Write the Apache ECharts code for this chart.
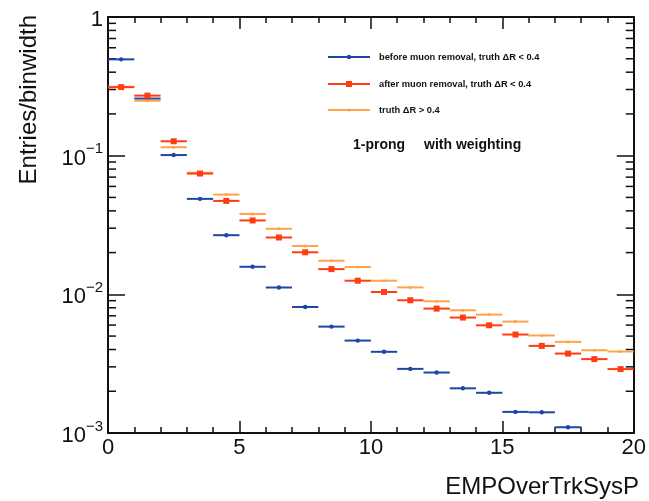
<!DOCTYPE html>
<html lang="en">
<head>
  <meta charset="UTF-8">
  <title>EMPOverTrkSysP</title>
  <style>
    html, body { margin: 0; padding: 0; background: #fff; }
    #chart { width: 649px; height: 501px; }
  </style>
</head>
<body>
  <div id="chart"></div>
  <script src="https://cdn.jsdelivr.net/npm/echarts@6/dist/echarts.min.js"></script>
  <script>
    // bin centres (bin width 1) and entries/binwidth
    var binCenters = [0.5, 1.5, 2.5, 3.5, 4.5, 5.5, 6.5, 7.5, 8.5, 9.5,
      10.5, 11.5, 12.5, 13.5, 14.5, 15.5, 16.5, 17.5, 18.5, 19.5];
    var beforeMuon = [0.495, 0.258, 0.101, 0.0488, 0.0267, 0.0158, 0.0112, 0.0081, 0.00585, 0.00464,
      0.00385, 0.00290, 0.00273, 0.00210, 0.00195, 0.00142, 0.00141, 0.00110];
    var afterMuon = [0.312, 0.271, 0.127, 0.0743, 0.0472, 0.0341, 0.0257, 0.0201, 0.0152, 0.01254,
      0.0104, 0.00906, 0.00789, 0.00680, 0.00598, 0.00513, 0.00425, 0.00374, 0.00341, 0.00289];
    var truthOut = [0.314, 0.249, 0.115, 0.0752, 0.0524, 0.0380, 0.0297, 0.0223, 0.01747, 0.01574,
      0.01254, 0.01122, 0.00891, 0.00767, 0.00714, 0.00636, 0.00505, 0.00454, 0.00395, 0.00387];
    var seriesNames = ['before muon removal, truth \u0394R < 0.4',
      'after muon removal, truth \u0394R < 0.4', 'truth \u0394R > 0.4'];
    var xTicks = [0, 5, 10, 15, 20];
    var halfBin = 0.5;

    var BLUE = '#1f45a5', RED = '#ff3c12', ORANGE = '#ffa24a';
    var FONT = '"Liberation Sans", Arial, sans-serif';

    function pairs(vals) {
      return vals.map(function (v, i) { return [binCenters[i], v]; });
    }

    function markerShape(kind, cx, cy, color) {
      if (kind === 'square') {
        return { type: 'rect', shape: { x: cx - 3, y: cy - 3, width: 6, height: 6 }, style: { fill: color } };
      }
      if (kind === 'dot') {
        return { type: 'circle', shape: { cx: cx, cy: cy, r: 2.2 }, style: { fill: color } };
      }
      return { type: 'circle', shape: { cx: cx, cy: cy, r: 1.5 }, style: { fill: color } };
    }

    function errRender(color, kind) {
      return function (params, api) {
        var x = api.value(0), y = api.value(1);
        var a = api.coord([x - halfBin, y]);
        var b = api.coord([x + halfBin, y]);
        var c = api.coord([x, y]);
        return {
          type: 'group',
          children: [
            { type: 'line', shape: { x1: a[0], y1: a[1], x2: b[0], y2: b[1] }, style: { stroke: color, lineWidth: 2 } },
            markerShape(kind, c[0], c[1], color)
          ]
        };
      };
    }

    // log minor ticks (2..9 per decade) on left and right frame
    var minorVals = [];
    [0.001, 0.01, 0.1].forEach(function (d) {
      for (var k = 2; k <= 9; k++) minorVals.push([0, d * k]);
    });

    function yMinorRender(params, api) {
      var l = api.coord([0, api.value(1)]);
      var r = api.coord([20, api.value(1)]);
      return {
        type: 'group',
        children: [
          { type: 'line', shape: { x1: l[0], y1: l[1], x2: l[0] + 8, y2: l[1] }, style: { stroke: '#111', lineWidth: 1.5 } },
          { type: 'line', shape: { x1: r[0], y1: r[1], x2: r[0] - 8, y2: r[1] }, style: { stroke: '#111', lineWidth: 1.5 } }
        ]
      };
    }

    function yLabel(v) {
      var e = Math.round(Math.log10(v));
      if (e === 0) return '{b|1}';
      return '{b|10}{e|\u2212' + (-e) + '}';
    }

    var axisLine = { show: true, onZero: false, lineStyle: { color: '#111', width: 2 } };
    var tickStyle = { color: '#111', width: 1.5 };

    var legendRows = [
      { name: seriesNames[0], color: BLUE, kind: 'dot', y: 57 },
      { name: seriesNames[1], color: RED, kind: 'square', y: 84 },
      { name: seriesNames[2], color: ORANGE, kind: 'tri', y: 110 }
    ];
    var legendEls = [];
    legendRows.forEach(function (r) {
      legendEls.push({ type: 'line', shape: { x1: 328, y1: r.y, x2: 370, y2: r.y }, style: { stroke: r.color, lineWidth: 2 } });
      legendEls.push(markerShape(r.kind, 349, r.y, r.color));
      legendEls.push({
        type: 'text', x: 379, y: r.y,
        style: { text: r.name, fontFamily: FONT, fontWeight: 'bold', fontSize: 9.3, fill: '#111', verticalAlign: 'middle' }
      });
    });

    var chart = echarts.init(document.getElementById('chart'), null, { renderer: 'canvas' });
    chart.setOption({
      animation: false,
      backgroundColor: '#fff',
      grid: { left: 108, right: 11, top: 17, bottom: 68 },
      xAxis: [{
        type: 'value', min: xTicks[0], max: xTicks[xTicks.length - 1], interval: 5,
        axisLine: axisLine,
        axisTick: { inside: true, length: 12, lineStyle: tickStyle },
        minorTick: { show: true, splitNumber: 5, length: 6, lineStyle: tickStyle },
        splitLine: { show: false },
        axisLabel: { fontFamily: FONT, fontSize: 22, color: '#111', margin: 4, showMinLabel: true, showMaxLabel: true }
      }, {
        type: 'value', position: 'top', min: 0, max: 20, interval: 5,
        axisLine: axisLine,
        axisTick: { inside: true, length: 12, lineStyle: tickStyle },
        minorTick: { show: true, splitNumber: 5, length: 6, lineStyle: tickStyle },
        splitLine: { show: false },
        axisLabel: { show: false }
      }],
      yAxis: [{
        type: 'log', logBase: 10, min: 0.001, max: 1,
        axisLine: axisLine,
        axisTick: { inside: true, length: 17, lineStyle: tickStyle },
        splitLine: { show: false },
        axisLabel: {
          margin: 5, formatter: yLabel,
          rich: {
            b: { fontFamily: FONT, fontSize: 22, color: '#111', lineHeight: 28, verticalAlign: 'bottom' },
            e: { fontFamily: FONT, fontSize: 15, color: '#111', lineHeight: 15, verticalAlign: 'top' }
          }
        }
      }, {
        type: 'log', logBase: 10, min: 0.001, max: 1, position: 'right',
        axisLine: axisLine,
        axisTick: { inside: true, length: 17, lineStyle: tickStyle },
        splitLine: { show: false },
        axisLabel: { show: false }
      }],
      series: [{
        type: 'custom', name: 'minor', silent: true, clip: false,
        data: minorVals, renderItem: yMinorRender
      }, {
        type: 'custom', name: seriesNames[0], data: pairs(beforeMuon), renderItem: errRender(BLUE, 'dot')
      }, {
        type: 'custom', name: seriesNames[2], data: pairs(truthOut), renderItem: errRender(ORANGE, 'tri')
      }, {
        type: 'custom', name: seriesNames[1], data: pairs(afterMuon), renderItem: errRender(RED, 'square')
      }],
      graphic: [{
        type: 'group', children: legendEls
      }, {
        type: 'text', x: 353, y: 145,
        style: { text: '1-prong', fontFamily: FONT, fontWeight: 'bold', fontSize: 14, fill: '#111', verticalAlign: 'middle' }
      }, {
        type: 'text', x: 424, y: 145,
        style: { text: 'with weighting', fontFamily: FONT, fontWeight: 'bold', fontSize: 14, fill: '#111', verticalAlign: 'middle' }
      }, {
        type: 'text', x: 29, y: 15, rotation: Math.PI / 2,
        style: { text: 'Entries/binwidth', fontFamily: FONT, fontSize: 24, fill: '#111', align: 'right', verticalAlign: 'middle' }
      }, {
        type: 'text', x: 639, y: 487,
        style: { text: 'EMPOverTrkSysP', fontFamily: FONT, fontSize: 24, fill: '#111', align: 'right', verticalAlign: 'middle' }
      }]
    });
  </script>
</body>
</html>
